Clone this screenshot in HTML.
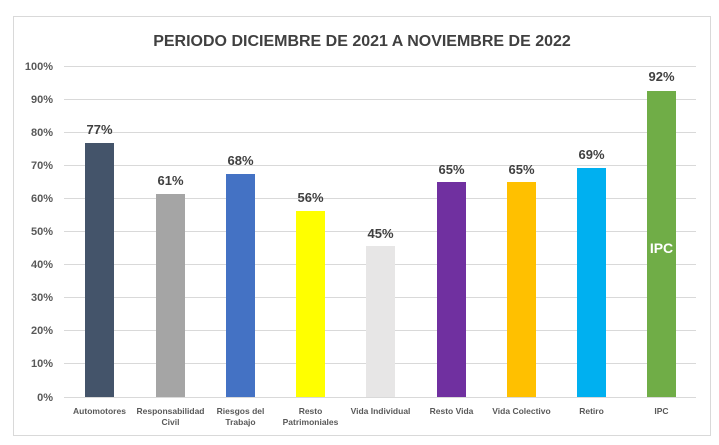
<!DOCTYPE html>
<html><head><meta charset="utf-8"><style>
html,body{margin:0;padding:0;background:#fff;}
svg{display:block;font-family:"Liberation Sans",sans-serif;}
</style></head><body>
<svg width="719" height="445" viewBox="0 0 719 445">
<rect x="13.5" y="16.5" width="697" height="419" fill="#fff" stroke="#d9d9d9" stroke-width="1"/>
<text x="362" y="46" text-anchor="middle" font-size="16" font-weight="bold" fill="#404040">PERIODO DICIEMBRE DE 2021 A NOVIEMBRE DE 2022</text>
<g stroke="#d9d9d9" stroke-width="1">
<line x1="64" x2="696" y1="66.5" y2="66.5"/><line x1="64" x2="696" y1="99.5" y2="99.5"/>
<line x1="64" x2="696" y1="132.5" y2="132.5"/><line x1="64" x2="696" y1="165.5" y2="165.5"/>
<line x1="64" x2="696" y1="198.5" y2="198.5"/><line x1="64" x2="696" y1="231.5" y2="231.5"/>
<line x1="64" x2="696" y1="264.5" y2="264.5"/><line x1="64" x2="696" y1="297.5" y2="297.5"/>
<line x1="64" x2="696" y1="330.5" y2="330.5"/><line x1="64" x2="696" y1="363.5" y2="363.5"/>
<line x1="64" x2="696" y1="397.5" y2="397.5"/>
</g>
<g font-size="11" font-weight="bold" fill="#595959" text-anchor="end">
<text x="53" y="70">100%</text><text x="53" y="103">90%</text><text x="53" y="136">80%</text>
<text x="53" y="169">70%</text><text x="53" y="202">60%</text><text x="53" y="235">50%</text>
<text x="53" y="268">40%</text><text x="53" y="301">30%</text><text x="53" y="334">20%</text>
<text x="53" y="367">10%</text><text x="53" y="401">0%</text>
</g>
<g>
<rect x="85" y="143" width="29" height="254" fill="#44546a"/>
<rect x="156" y="194" width="29" height="203" fill="#a5a5a5"/>
<rect x="226" y="174" width="29" height="223" fill="#4472c4"/>
<rect x="296" y="211" width="29" height="186" fill="#ffff00"/>
<rect x="366" y="246" width="29" height="151" fill="#e7e6e6"/>
<rect x="437" y="182" width="29" height="215" fill="#7030a0"/>
<rect x="507" y="182" width="29" height="215" fill="#ffc000"/>
<rect x="577" y="168" width="29" height="229" fill="#00b0f0"/>
<rect x="647" y="91" width="29" height="306" fill="#70ad47"/>
</g>
<g font-size="13" font-weight="bold" fill="#404040" text-anchor="middle">
<text x="99.5" y="134">77%</text><text x="170.5" y="185">61%</text><text x="240.5" y="165">68%</text>
<text x="310.5" y="202">56%</text><text x="380.5" y="238">45%</text><text x="451.5" y="174">65%</text>
<text x="521.5" y="174">65%</text><text x="591.5" y="159">69%</text><text x="661.5" y="81">92%</text>
</g>
<text x="661.5" y="253" text-anchor="middle" font-size="14" font-weight="bold" fill="#fff">IPC</text>
<g font-size="8.5" font-weight="bold" fill="#595959" text-anchor="middle">
<text x="99.5" y="414">Automotores</text>
<text x="170.5" y="414">Responsabilidad</text><text x="170.5" y="425">Civil</text>
<text x="240.5" y="414">Riesgos del</text><text x="240.5" y="425">Trabajo</text>
<text x="310.5" y="414">Resto</text><text x="310.5" y="425">Patrimoniales</text>
<text x="380.5" y="414">Vida Individual</text>
<text x="451.5" y="414">Resto Vida</text>
<text x="521.5" y="414">Vida Colectivo</text>
<text x="591.5" y="414">Retiro</text>
<text x="661.5" y="414">IPC</text>
</g>
</svg>
</body></html>
